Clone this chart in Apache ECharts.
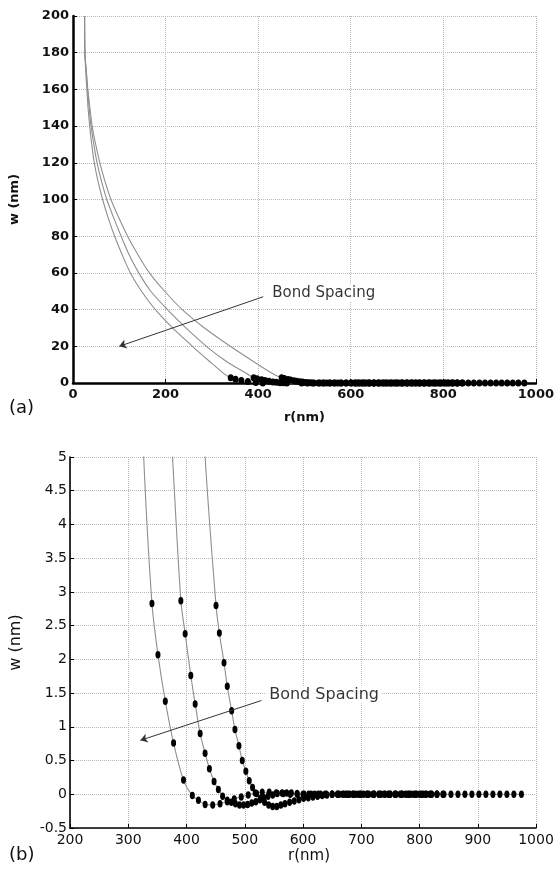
<!DOCTYPE html>
<html>
<head>
<meta charset="utf-8">
<script src="https://cdn.jsdelivr.net/npm/echarts@6/dist/echarts.min.js"></script>
<style>
html,body{margin:0;padding:0;background:#fff;}
#chart{width:557px;height:870px;}
</style>
</head>
<body>
<div id="chart"></div>
<script>
// ---- Data: [r (nm), w (nm)] ----
// Curve A (smallest bond spacing)
const curveA_upper = [[25,200],[25.7,180],[27.5,170],[30,160],[32.5,150],[36,140],[40.5,130],[46,120],[54,110],[64,100],[76,90],[90,80],[106,70],[124,60],[148,50],[178,40],[215,30],[258,20],[294,12],[326.5,5]];
const curveA_dots = [[340.7,2.83],[351,2.07],[363.6,1.38],[377.8,0.76],[394.9,0.21],[410,-0.02],[420.5,-0.09],[432,-0.15],[445,-0.16],[457.6,-0.14],[470,-0.11],[482,-0.07],[494,-0.04],[506,-0.01],[518,0.02],[530,0.03],[542,0.03],[554,0.02],[566,0.01],[578,0],[590,0],[602,0],[614,0],[626,0],[638,0],[650,0],[662,0],[674,0],[686,0],[698,0],[710,0],[722,0],[734,0],[746,0],[758,0],[770,0],[782,0],[794,0],[806,0],[818,0],[830,0],[842,0],[854,0],[866,0],[878,0],[890,0],[902,0],[914,0],[926,0],[938,0],[950,0],[962,0],[975,0]];
// Curve B (middle)
const curveB_upper = [[25,200],[25.7,180],[28.5,170],[31.5,160],[35,150],[39,140],[45,130],[52,120],[61.5,110],[73,100],[88,90],[104,80],[121,70],[142,60],[168,50],[204,40],[244,30],[288,20],[330,12],[376,5]];
const curveB_dots = [[390.3,2.87],[397.7,2.38],[407.4,1.76],[414.9,1.34],[423.4,0.90],[431.9,0.61],[439.3,0.38],[447.3,0.19],[454.7,0.07],[462,-0.03],[470,-0.09],[477,-0.12],[484,-0.14],[491,-0.16],[498,-0.16],[505,-0.15],[512,-0.13],[519,-0.11],[526,-0.08],[533,-0.05],[540,-0.03],[548,-0.01],[556,0.01],[564,0.02],[572,0.02],[580,0.02],[590,0.01],[600,0],[610,0],[620,0],[630,0],[640,0],[650,0],[660,0],[670,0],[680,0],[690,0],[700,0],[710,0],[720,0],[730,0],[740,0],[750,0],[760,0],[770,0],[780,0],[790,0],[800,0],[810,0],[820,0],[830,0],[840,0]];
// Curve C (largest bond spacing)
const curveC_upper = [[25,200],[25.7,180],[28.8,170],[32,160],[36.5,150],[41.4,140],[49,130],[58,120],[69,110],[82,100],[99,90],[118,80],[140,70],[165,60],[198,50],[236,40],[284,30],[340,20],[388,12],[432,5]];
const curveC_dots = [[450.7,2.80],[456.4,2.39],[464.4,1.95],[470,1.60],[477.5,1.24],[483.2,0.96],[490,0.72],[495.7,0.50],[501.9,0.34],[507.7,0.20],[513.4,0.10],[520.3,0.01],[527,-0.06],[534,-0.12],[541,-0.16],[548,-0.18],[555,-0.18],[562,-0.16],[569,-0.14],[577,-0.12],[585,-0.10],[593,-0.08],[601,-0.06],[609,-0.05],[617,-0.04],[625,-0.03],[633,-0.02],[641,-0.01],[650,0],[659,0],[668,0],[677,0],[686,0],[695,0],[704,0],[713,0],[722,0],[731,0],[740,0],[749,0],[758,0],[767,0],[776,0],[785,0],[794,0],[803,0],[812,0],[821,0],[830,0]];
// Annotations
const annotText = 'Bond Spacing';
const arrowTop = [[411,47],[100,20]];
const textTop = [424,49];
const arrowBottom = [[528.7,1.39],[320.9,0.80]];
const textBottom = [536.8,1.48];

const FONT = 'DejaVu Sans';
const curves = [
  [curveA_upper, curveA_dots],
  [curveB_upper, curveB_dots],
  [curveC_upper, curveC_dots]
];

function axisCommon(bold, size){
  return {
    type:'value',
    axisLine:{show:true,onZero:false,lineStyle:{color:'#000',width:bold?2.5:1.6}},
    axisTick:{show:true,inside:true,length:4,lineStyle:{color:'#000',width:1}},
    axisLabel:{fontFamily:FONT,fontWeight:bold?'bold':'normal',fontSize:size,color:'#111',
      formatter:function(v){return String(v);}},
    splitLine:{show:true,lineStyle:{type:'dotted',color:'#b8b8b8',width:1}}
  };
}

const series = [];
[0,1].forEach(function(g){
  curves.forEach(function(c){
    series.push({
      type:'line', xAxisIndex:g, yAxisIndex:g,
      data:c[0].concat(c[1]),
      showSymbol:false, smooth:0.3,
      lineStyle:{color:'#8f8f8f',width:1.1},
      silent:true, z:2
    });
  });
  curves.forEach(function(c){
    series.push({
      type:'scatter', xAxisIndex:g, yAxisIndex:g,
      data:c[1], symbol:'circle', symbolSize:g===0?[6,7]:[5,7.5],
      itemStyle:{color:'#000',opacity:1},
      silent:true, z:3
    });
  });
  const arrow = g===0 ? arrowTop : arrowBottom;
  const tp = g===0 ? textTop : textBottom;
  series.push({
    type:'scatter', xAxisIndex:g, yAxisIndex:g,
    data:[tp], symbolSize:0, silent:true, z:5,
    label:{show:true,position:'right',distance:0,formatter:annotText,
      fontFamily:FONT,fontSize:g===0?15:16,color:'#000',
      backgroundColor:'#fff',padding:[1,3]},
    markLine:{
      silent:true, symbol:['none','arrow'], symbolSize:7, animation:false,
      label:{show:false},
      lineStyle:{color:'#333',width:1,type:'solid'},
      data:[[{coord:arrow[0]},{coord:arrow[1]}]]
    }
  });
});

const xTop = Object.assign(axisCommon(true,13),{gridIndex:0,min:0,max:1000,interval:200,
  name:'r(nm)',nameLocation:'middle',nameGap:28,
  nameTextStyle:{fontFamily:FONT,fontWeight:'bold',fontSize:13,color:'#111'}});
xTop.axisLabel.margin = 5;
const yTop = Object.assign(axisCommon(true,13),{gridIndex:0,min:0,max:200,interval:20,
  name:'w (nm)',nameLocation:'middle',nameGap:52,nameRotate:90,
  nameTextStyle:{fontFamily:FONT,fontWeight:'bold',fontSize:13,color:'#111'}});
yTop.axisLabel.margin = 4;
const xBot = Object.assign(axisCommon(false,14),{gridIndex:1,min:200,max:1000,interval:100});
xBot.axisLabel.margin = 5;
const yBot = Object.assign(axisCommon(false,14),{gridIndex:1,min:-0.5,max:5,interval:0.5,
  name:'w (nm)',nameLocation:'middle',nameGap:46,nameRotate:90,
  nameTextStyle:{fontFamily:FONT,fontSize:16,color:'#111'}});
yBot.axisLabel.margin = 3;

const option = {
  animation:false,
  backgroundColor:'#fff',
  grid:[
    {left:70,top:16,width:467,height:367},
    {left:66,top:457,width:470,height:371}
  ],
  xAxis:[xTop,xBot],
  yAxis:[yTop,yBot],
  series:series,
  graphic:[
    {type:'text',left:9,top:399,style:{text:'(a)',font:'18px "DejaVu Sans"',fill:'#111'}},
    {type:'text',left:9,top:846,style:{text:'(b)',font:'18px "DejaVu Sans"',fill:'#111'}},
    {type:'text',left:288,top:849,style:{text:'r(nm)',font:'15px "DejaVu Sans"',fill:'#111'}}
  ]
};

const chart = echarts.init(document.getElementById('chart'),null,{renderer:'canvas'});
chart.setOption(option);
</script>
</body>
</html>
